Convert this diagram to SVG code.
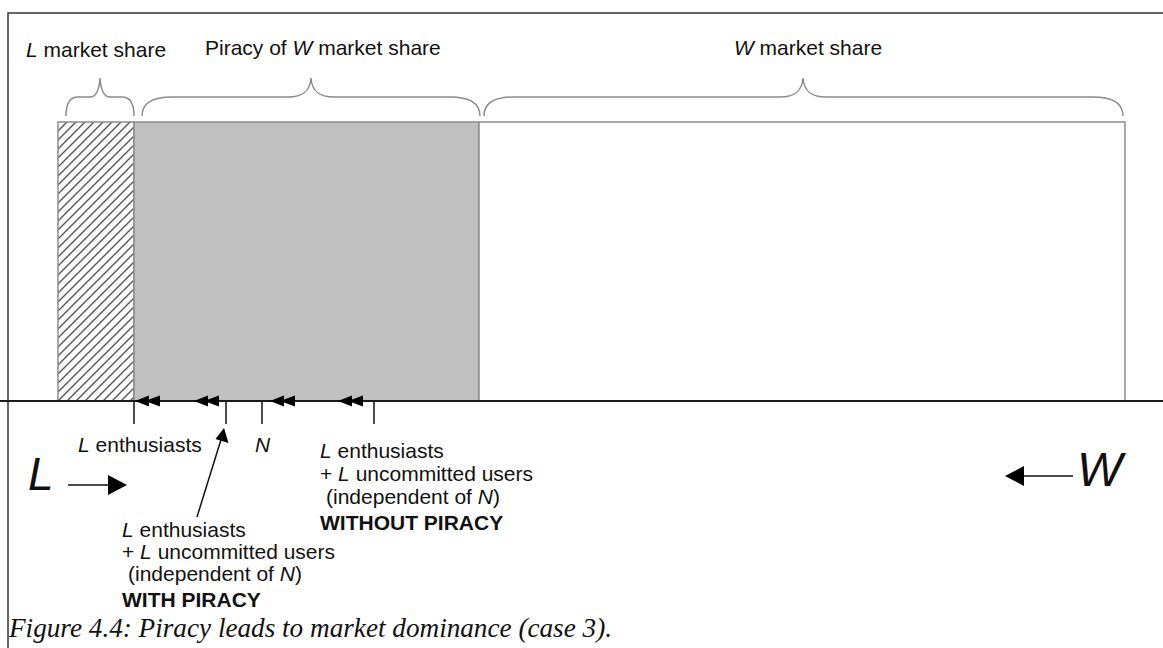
<svg xmlns="http://www.w3.org/2000/svg" width="1163" height="648" viewBox="0 0 1163 648">
<style>
.t{font-family:"Liberation Sans",Arial,sans-serif;font-size:21px;fill:#111}
.i{font-style:italic}
.b{font-weight:bold}
.big{font-family:"Liberation Sans",Arial,sans-serif;font-size:46px;font-style:italic;fill:#111}
.cap{font-family:"Liberation Serif","Times New Roman",serif;font-size:27.2px;font-style:italic;fill:#111}
.brace{fill:none;stroke:#8c8c8c;stroke-width:1.5}
.bar{stroke:#8c8c8c;stroke-width:1.5}
.tick{stroke:#111;stroke-width:1.5}
</style>
<defs>
<pattern id="hatch" patternUnits="userSpaceOnUse" width="9" height="9">
<path d="M0,9 L9,0 M-2,2 L2,-2 M7,11 L11,7" stroke="#555" stroke-width="1.4"/>
</pattern>
<g id="dbl">
<path d="M0,0 L14,-5.5 L14,5.5 Z M10,0 L25,-5.5 L25,5.5 Z" fill="#000"/>
</g>
</defs>
<rect width="1163" height="648" fill="#fff"/>
<g id="frame" stroke="#333" stroke-width="1.5" fill="none">
<path d="M8,648 L8,13 L1163,13"/>
</g>
<g id="bar-L"><rect x="58" y="122" width="76" height="279" fill="url(#hatch)" class="bar"/></g>
<g id="bar-piracy"><rect x="134" y="122" width="345" height="279" fill="#c0c0c0" class="bar"/></g>
<g id="bar-W"><rect x="479" y="122" width="646" height="279" fill="#fff" class="bar"/></g>
<g id="braces">
<path class="brace" d="M66,116 C66,103 70,97 78,97 L90,97 C95,97 99,93 100,78 C101,93 105,97 110,97 L122,97 C130,97 134,103 134,116"/>
<path class="brace" d="M142,116 C142,104 152,97 172,97 L288,97 C302,97 310,92 311,78 C312,92 320,97 334,97 L450,97 C470,97 480,104 480,116"/>
<path class="brace" d="M484,116 C484,104 494,97 514,97 L780,97 C794,97 802,92 803,78 C804,92 812,97 826,97 L1093,97 C1113,97 1123,104 1123,116"/>
</g>
<g id="top-labels">
<text class="t" x="26" y="57"><tspan class="i">L</tspan> market share</text>
<text class="t" x="205" y="55">Piracy of <tspan class="i">W</tspan> market share</text>
<text class="t" x="808" y="55" text-anchor="middle"><tspan class="i">W</tspan> market share</text>
</g>
<g id="connectors">
<line x1="0" y1="401" x2="1163" y2="401" stroke="#1a1a1a" stroke-width="2"/>
<line class="tick" x1="134" y1="401" x2="134" y2="424"/>
<line class="tick" x1="226" y1="401" x2="226" y2="424"/>
<line class="tick" x1="262" y1="401" x2="262" y2="424"/>
<line class="tick" x1="374" y1="401" x2="374" y2="424"/>
<use href="#dbl" x="135" y="401"/>
<use href="#dbl" x="194" y="401"/>
<use href="#dbl" x="270" y="401"/>
<use href="#dbl" x="338" y="401"/>
<line x1="197" y1="517" x2="224" y2="430" stroke="#111" stroke-width="1.5"/>
<path d="M224,428 L228.5,443 L215.5,439 Z" fill="#000"/>
<line x1="68" y1="485" x2="110" y2="485" stroke="#111" stroke-width="1.5"/>
<path d="M127,485 L108,475 L108,495 Z" fill="#000"/>
<line x1="1022" y1="476" x2="1073" y2="476" stroke="#111" stroke-width="1.5"/>
<path d="M1005,476 L1024,466 L1024,486 Z" fill="#000"/>
</g>
<g id="axis-labels">
<text class="t" x="78" y="452"><tspan class="i">L</tspan> enthusiasts</text>
<text class="t i" x="255" y="452">N</text>
<text class="big" x="28" y="490">L</text>
<text class="big" x="1077" y="486" style="font-size:48px">W</text>
</g>
<g id="without-piracy">
<text class="t" x="320" y="458"><tspan class="i">L</tspan> enthusiasts</text>
<text class="t" x="320" y="481">+ <tspan class="i">L</tspan> uncommitted users</text>
<text class="t" x="326" y="504">(independent of <tspan class="i">N</tspan>)</text>
<text class="t b" x="320" y="530">WITHOUT PIRACY</text>
</g>
<g id="with-piracy">
<text class="t" x="122" y="537"><tspan class="i">L</tspan> enthusiasts</text>
<text class="t" x="122" y="559">+ <tspan class="i">L</tspan> uncommitted users</text>
<text class="t" x="128" y="581">(independent of <tspan class="i">N</tspan>)</text>
<text class="t b" x="122" y="607">WITH PIRACY</text>
</g>
<g id="caption">
<text class="cap" x="9" y="637">Figure 4.4: Piracy leads to market dominance (case 3).</text>
</g>
</svg>
